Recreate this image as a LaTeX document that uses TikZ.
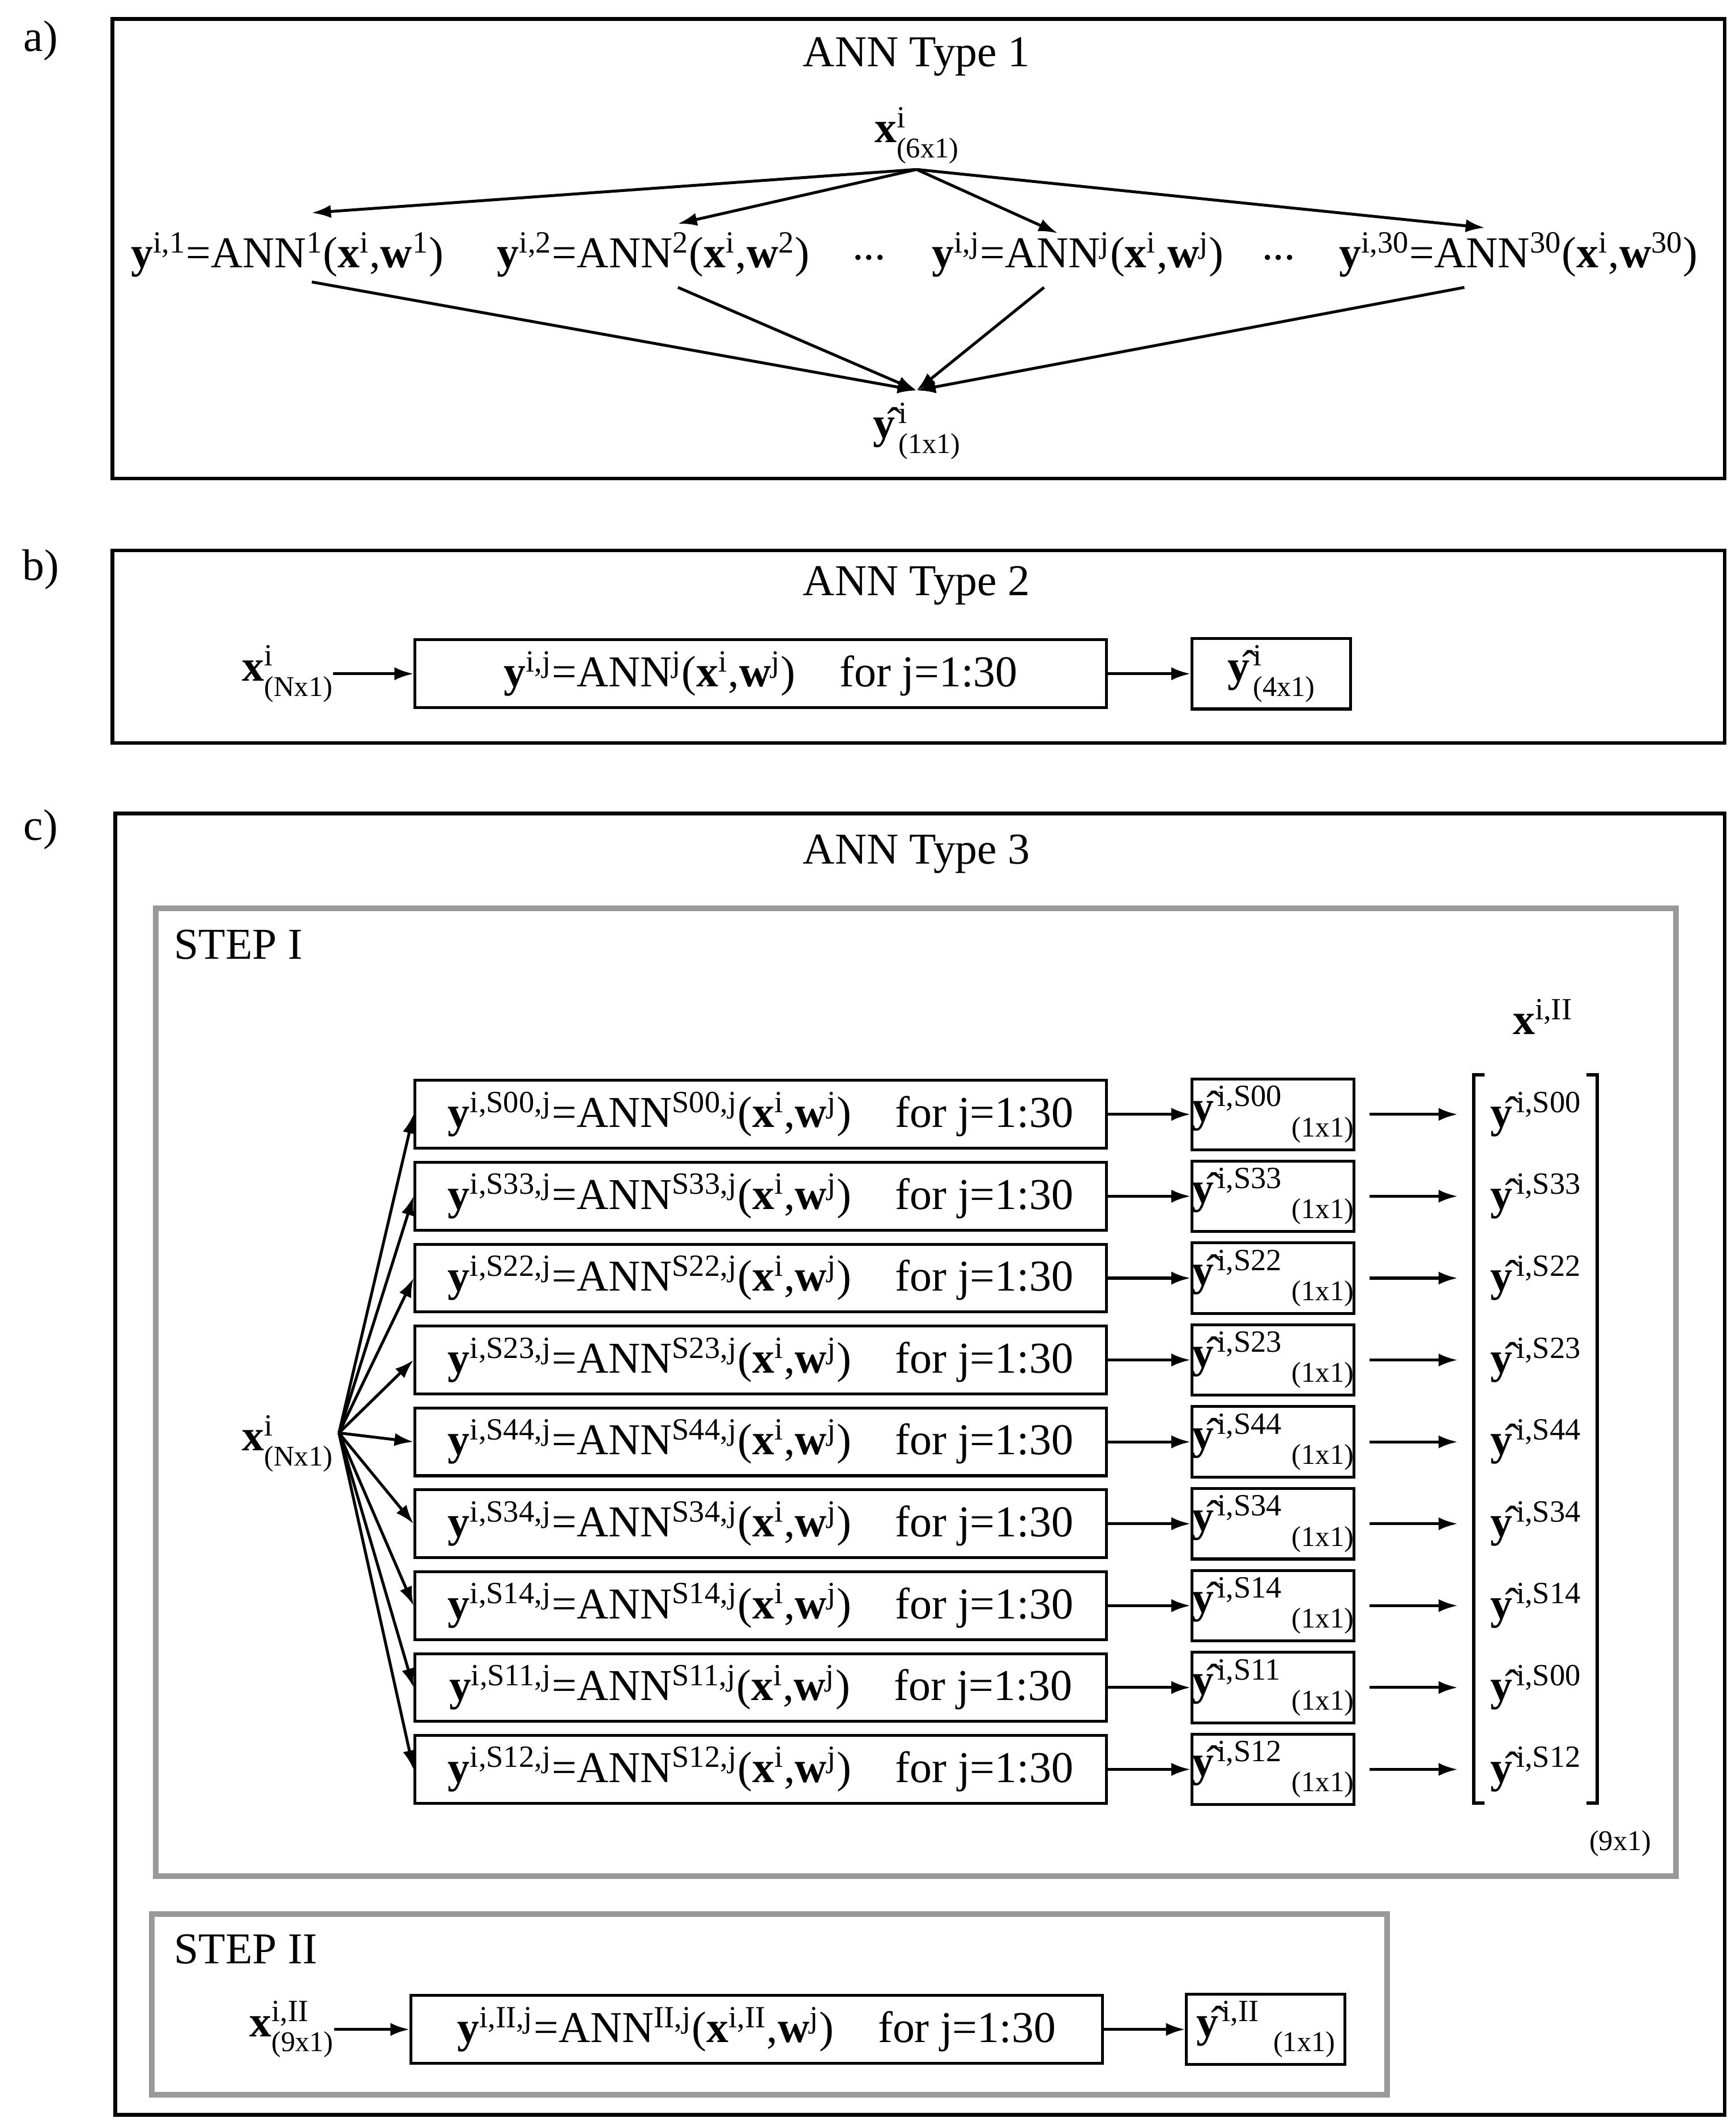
\documentclass[tikz,border=0pt]{standalone}
\usepackage{fontspec}
\usetikzlibrary{arrows.meta}
\setmainfont{Liberation Serif}
\newcommand\supsb[2]{\rlap{\textsuperscript{#1}}\raisebox{-0.75ex}{\fontsize{12}{13}\selectfont #2}}
\newcommand\bfx[1]{\textbf{#1}}
\newcommand\hy{\^{\bfx{y}}\kern1.5pt}
\begin{document}
\begin{tikzpicture}[x=0.02cm,y=-0.02cm,
  every node/.style={font=\fontsize{18.5}{20}\selectfont, inner sep=0pt},
  frame/.style={draw, line width=1.6pt},
  gframe/.style={draw=black!40, line width=2.4pt},
  box/.style={draw, line width=1.2pt, minimum height=1cm, anchor=west},
  yb/.style={draw, line width=1.2pt, minimum height=1.04cm, minimum width=2.34cm, anchor=west},
  arr/.style={-{Latex[length=8pt,width=5.5pt]}, line width=1.2pt}]
\useasboundingbox (0,0) rectangle (1280,1569);
% a
\node (la) at (30,30) {a)};
\draw[frame] (83,14) rectangle (1272,353);
\node (ta) at (676,42) {ANN Type 1};
\node (xa) at (676,100) {\bfx{x}\supsb{i}{(6x1)}\hspace{2.5em}};
\node (a1) at (212,188) {\bfx{y}\textsuperscript{i,1}=ANN\textsuperscript{1}(\bfx{x}\textsuperscript{i},\bfx{w}\textsuperscript{1})};
\node (a2) at (482,188) {\bfx{y}\textsuperscript{i,2}=ANN\textsuperscript{2}(\bfx{x}\textsuperscript{i},\bfx{w}\textsuperscript{2})};
\node (d1) at (641,190) {...};
\node (a3) at (795,188) {\bfx{y}\textsuperscript{i,j}=ANN\textsuperscript{j}(\bfx{x}\textsuperscript{i},\bfx{w}\textsuperscript{j})};
\node (d2) at (943,190) {...};
\node (a4) at (1120,188) {\bfx{y}\textsuperscript{i,30}=ANN\textsuperscript{30}(\bfx{x}\textsuperscript{i},\bfx{w}\textsuperscript{30})};
\node (ya) at (676,318) {\hy\supsb{i}{(1x1)}\hspace{2.5em}};
\coordinate (xs) at (676,125);
\coordinate (yt) at (676,288);
\draw[arr] (xs) -- (230,157);
\draw[arr] (xs) -- (500,165);
\draw[arr] (xs) -- (780,172);
\draw[arr] (xs) -- (1095,168);
\draw[arr] (230,208) -- (yt);
\draw[arr] (500,212) -- (yt);
\draw[arr] (770,212) -- (yt);
\draw[arr] (1080,212) -- (yt);
% b
\node (lb) at (30,420) {b)};
\draw[frame] (83,406) rectangle (1272,548);
\node (tb) at (676,432) {ANN Type 2};
\node (xb) at (212,497) {\bfx{x}\supsb{i}{(Nx1)}\hspace{2.6em}};
\node[box, minimum width=10.2cm] (bb) at (305,497) {\bfx{y}\textsuperscript{i,j}=ANN\textsuperscript{j}(\bfx{x}\textsuperscript{i},\bfx{w}\textsuperscript{j})\quad for j=1:30};
\node[yb] (byb) at (878,497) {\hy\supsb{i}{(4x1)}\hspace{2.5em}};
\draw[arr] (xb.east) -- (bb.west);
\draw[arr] (bb.east) -- (byb.west);
% c
\node (lc) at (30,612) {c)};
\draw[frame] (85,600) rectangle (1272,1560);
\node (tc) at (676,630) {ANN Type 3};
\draw[gframe] (115,670) rectangle (1236,1384);
\node[anchor=west] (s1) at (128,697) {STEP I};
\node (xII) at (1138,750) {\bfx{x}\textsuperscript{i,II}};
\node (xc) at (212,1065) {\bfx{x}\supsb{i}{(Nx1)}\hspace{2.6em}};
\coordinate (xcs) at (250,1057);
\foreach \k/\s/\m in {0/S00/S00,1/S33/S33,2/S22/S22,3/S23/S23,4/S44/S44,5/S34/S34,6/S14/S14,7/S11/S00,8/S12/S12}{
  \pgfmathsetmacro\yy{822+60.4*\k}
  \node[box, minimum width=10.2cm] (r\k) at (305,\yy) {\bfx{y}\textsuperscript{i,\s,j}=ANN\textsuperscript{\s,j}(\bfx{x}\textsuperscript{i},\bfx{w}\textsuperscript{j})\quad for j=1:30};
  \node[yb] (h\k) at (878,\yy) {\hy\supsb{i,\s}{\hspace{2.6em}(1x1)}\hspace{5.2em}};
  \node (m\k) at (1133,\yy) {\hy\textsuperscript{i,\m}};
  \draw[arr] (xcs) -- (r\k.west);
  \draw[arr] (r\k.east) -- (h\k.west);
  \coordinate (p\k) at (1010,\yy);
  \draw[arr] (p\k) -- (1075,\yy);
}
\draw[line width=1.4pt] (1095,793) -- (1087,793) -- (1087,1330) -- (1095,1330);
\draw[line width=1.4pt] (1170,793) -- (1178,793) -- (1178,1330) -- (1170,1330);
\node[font=\fontsize{12}{13}\selectfont] (n91) at (1195,1360) {(9x1)};
\draw[gframe] (112,1412) rectangle (1023,1545);
\node[anchor=west] (s2) at (128,1438) {STEP II};
\node (x2) at (215,1497) {\bfx{x}\supsb{i,II}{(9x1)}\hspace{2.6em}};
\node[box, minimum width=10.2cm] (b2) at (302,1497) {\bfx{y}\textsuperscript{i,II,j}=ANN\textsuperscript{II,j}(\bfx{x}\textsuperscript{i,II},\bfx{w}\textsuperscript{j})\quad for j=1:30};
\node[yb] (y2) at (874,1497) {\hy\supsb{i,II}{\hspace{1.8em}(1x1)}\hspace{4.4em}};
\draw[arr] (x2.east) -- (b2.west);
\draw[arr] (b2.east) -- (y2.west);
\end{tikzpicture}
\end{document}
